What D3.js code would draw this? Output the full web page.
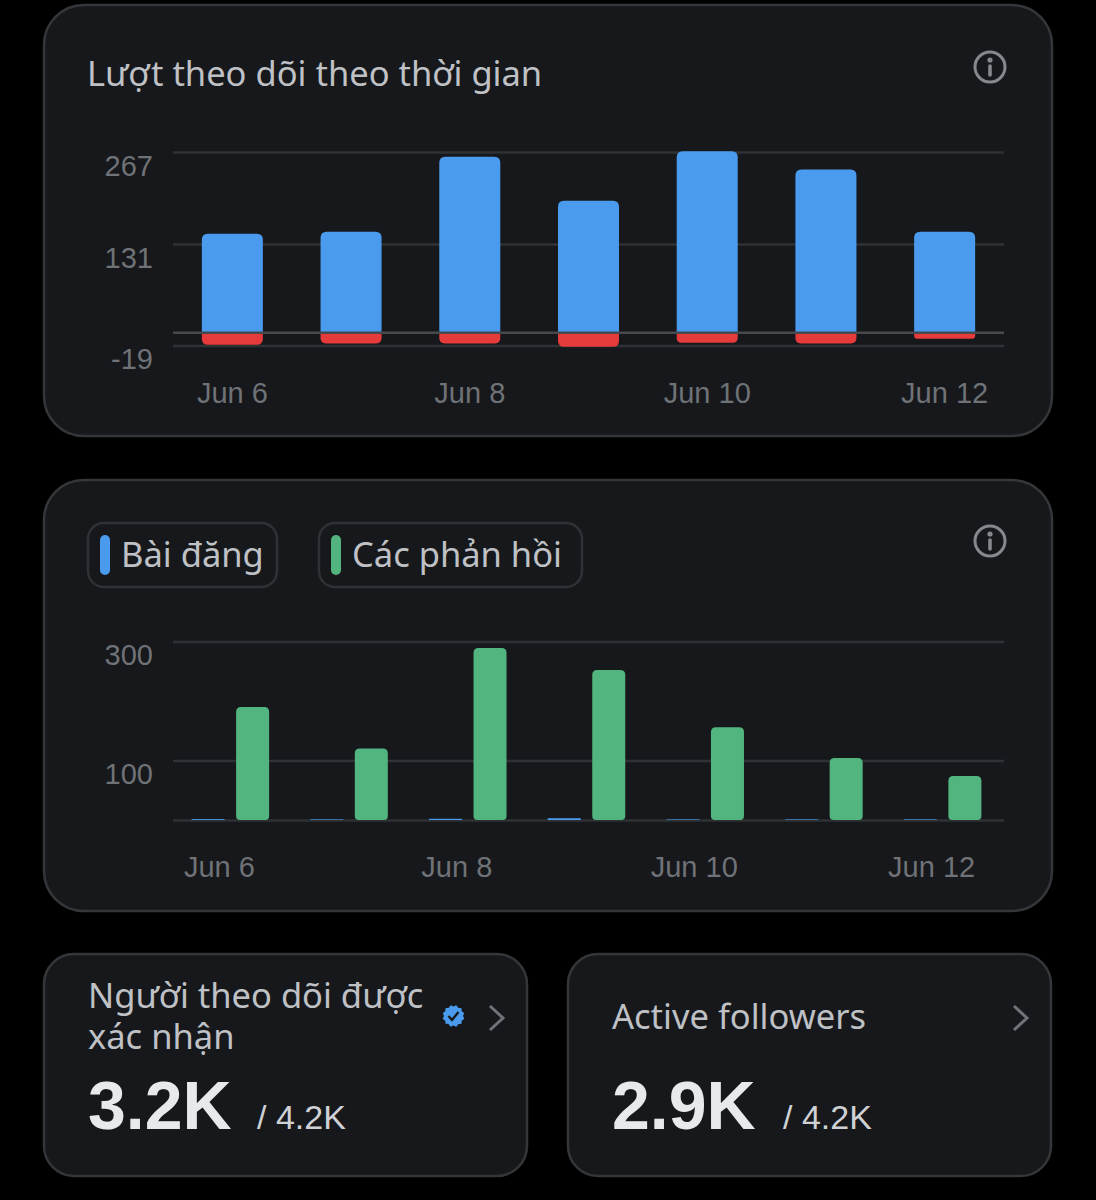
<!DOCTYPE html>
<html>
<head>
<meta charset="utf-8">
<script src="https://cdn.jsdelivr.net/npm/d3@7"></script>
<style>
  html, body { margin: 0; padding: 0; background: #000; }
  svg { display: block; }
  .label { font-family: "Noto Sans", sans-serif; fill: #bfc1c5; }
  .tick-text { font-family: "Liberation Sans", sans-serif; fill: #6f7276; font-size: 29px; }
</style>
</head>
<body>
<svg id="canvas"></svg>
<script>
let days = ["Jun 6", "Jun 7", "Jun 8", "Jun 9", "Jun 10", "Jun 11", "Jun 12"];
let tickDays = ["Jun 6", "Jun 8", "Jun 10", "Jun 12"];

let gained = [146, 149, 260, 195, 268, 241, 149];
let lost = [-18, -16, -16, -21, -15, -16, -9];
let followTicks = [267, 131, -19];

let posts = [1.5, 1, 2, 3, 1, 1, 1];
let replies = [190, 120, 289, 252, 156, 104, 74];
let replyTicks = [300, 100, 0];
let seriesNames = ["Bài đăng", "Các phản hồi"];

let width = 1096;
let height = 1200;

let cardFill = "#16181c";
let cardStroke = "#34373a";
let gridColor = "#2f3235";
let blue = "#4a9bee";
let red = "#e53b3b";
let green = "#52b57f";

let canvas = d3.select("#canvas").attr("width", width).attr("height", height);

let drawCard = (x, y, w, h, r) => {
  canvas.append("rect")
    .attr("x", x).attr("y", y).attr("width", w).attr("height", h).attr("rx", r)
    .attr("fill", cardFill).attr("stroke", cardStroke).attr("stroke-width", 2.5);
};

// rounded corners on top, bottom or both
let barPath = (x, y, w, h, rTop, rBottom) => {
  let rt = Math.min(rTop, h / 2), rb = Math.min(rBottom, h / 2);
  return "M" + x + "," + (y + rt) +
    "Q" + x + "," + y + " " + (x + rt) + "," + y +
    "H" + (x + w - rt) +
    "Q" + (x + w) + "," + y + " " + (x + w) + "," + (y + rt) +
    "V" + (y + h - rb) +
    "Q" + (x + w) + "," + (y + h) + " " + (x + w - rb) + "," + (y + h) +
    "H" + (x + rb) +
    "Q" + x + "," + (y + h) + " " + x + "," + (y + h - rb) + "Z";
};

let drawInfo = (cx, cy) => {
  let g = canvas.append("g").attr("transform", "translate(" + cx + "," + cy + ")");
  g.append("circle").attr("r", 15).attr("fill", "none").attr("stroke", "#85888c").attr("stroke-width", 3);
  g.append("circle").attr("cy", -7).attr("r", 2.6).attr("fill", "#85888c");
  g.append("line").attr("y1", -1).attr("y2", 8).attr("stroke", "#85888c").attr("stroke-width", 3.6).attr("stroke-linecap", "round");
};

let drawChevron = (x, y) => {
  canvas.append("path")
    .attr("d", "M" + x + "," + (y - 12) + "L" + (x + 13) + "," + y + "L" + x + "," + (y + 12))
    .attr("fill", "none").attr("stroke", "#6f7276").attr("stroke-width", 3);
};

let drawYAxis = (scale, values, shown) => {
  let axis = d3.axisLeft(scale).tickValues(values).tickSize(-831).tickPadding(0)
    .tickFormat((d) => (shown.includes(d) ? String(d).replace("-", "-") : ""));
  let g = canvas.append("g").attr("transform", "translate(173,0)").call(axis);
  g.select(".domain").remove();
  g.selectAll(".tick line").attr("stroke", gridColor).attr("stroke-width", 2.5);
  g.selectAll(".tick text")
    .attr("class", "tick-text")
    .attr("x", -20).attr("dy", 23)
    .attr("text-anchor", "end");
};

let drawXAxis = (scale, y) => {
  let axis = d3.axisBottom(scale).tickValues(tickDays).tickSize(0);
  let g = canvas.append("g").attr("transform", "translate(0," + y + ")").call(axis);
  g.select(".domain").remove();
  g.selectAll(".tick text").attr("class", "tick-text").attr("y", 0).attr("dy", "0.8em");
  return g;
};

let drawFollowChart = () => {
  drawCard(44, 5, 1008, 431, 40);
  canvas.append("text").attr("class", "label")
    .attr("x", 87).attr("y", 86).attr("font-size", 34.5)
    .text("Lượt theo dõi theo thời gian");
  drawInfo(990, 67);

  let xScale = d3.scaleBand().domain(days).range([173, 1004]).paddingInner(0.486).paddingOuter(0.243);
  let yScale = d3.scaleLinear().domain([-19, 267]).range([345.5, 152]);

  drawYAxis(yScale, followTicks, followTicks);

  canvas.selectAll(".gain").data(gained).enter().append("path")
    .attr("class", "gain")
    .attr("fill", blue)
    .attr("d", (item, i) => barPath(xScale(days[i]), yScale(item), xScale.bandwidth(), yScale(0) - yScale(item), 6, 0));

  canvas.selectAll(".loss").data(lost).enter().append("path")
    .attr("class", "loss")
    .attr("fill", red)
    .attr("d", (item, i) => barPath(xScale(days[i]), yScale(0), xScale.bandwidth(), yScale(item) - yScale(0), 0, 6));

  // the zero line sits on top of the bars
  canvas.append("line")
    .attr("x1", 173).attr("x2", 1004)
    .attr("y1", yScale(0)).attr("y2", yScale(0))
    .attr("stroke", "#47494d").attr("stroke-width", 2.5);

  drawXAxis(xScale, 380);
};

let drawLegend = () => {
  let boxes = [[88, 189, 100, 121], [319, 263, 331, 352]];
  let colors = [blue, green];
  seriesNames.forEach((name, i) => {
    let b = boxes[i];
    canvas.append("rect")
      .attr("x", b[0]).attr("y", 523).attr("width", b[1]).attr("height", 64).attr("rx", 16)
      .attr("fill", "none").attr("stroke", "#2f3235").attr("stroke-width", 2.5);
    canvas.append("rect")
      .attr("x", b[2]).attr("y", 535).attr("width", 10).attr("height", 40).attr("rx", 5)
      .attr("fill", colors[i]);
    canvas.append("text").attr("class", "label")
      .attr("x", b[3]).attr("y", 567).attr("font-size", 34.5)
      .text(name);
  });
};

let drawReplyChart = () => {
  drawCard(44, 480, 1008, 431, 40);
  drawLegend();
  drawInfo(990, 541);

  let xScale = d3.scaleBand().domain(days).range([171, 1002]).paddingInner(0.347).paddingOuter(0.1735);
  let inner = d3.scaleBand().domain(seriesNames).range([0, xScale.bandwidth()]).paddingInner(0.258);
  let yScale = d3.scaleLinear().domain([0, 300]).range([820, 641.5]);

  drawYAxis(yScale, replyTicks, [300, 100]);

  canvas.selectAll(".post").data(posts).enter().append("rect")
    .attr("class", "post")
    .attr("fill", blue)
    .attr("x", (item, i) => xScale(days[i]) + inner(seriesNames[0]))
    .attr("y", (item) => yScale(item))
    .attr("width", inner.bandwidth())
    .attr("height", (item) => yScale(0) - yScale(item));

  canvas.selectAll(".reply").data(replies).enter().append("path")
    .attr("class", "reply")
    .attr("fill", green)
    .attr("d", (item, i) => barPath(xScale(days[i]) + inner(seriesNames[1]), yScale(item), inner.bandwidth(), yScale(0) - yScale(item), 5, 4));

  // labels are offset to the left of the groups in the original
  let axisScale = xScale.copy().range([160, 991]);
  drawXAxis(axisScale, 854);
};

let drawBadge = (cx, cy) => {
  let points = d3.range(0, 24).map((i) => [i * Math.PI / 12, i % 2 ? 11 : 9.6]);
  canvas.append("path")
    .attr("transform", "translate(" + cx + "," + cy + ")")
    .attr("d", d3.lineRadial().curve(d3.curveCardinalClosed)(points))
    .attr("fill", blue);
  canvas.append("path")
    .attr("d", "M" + (cx - 5) + "," + cy + "L" + (cx - 1.5) + "," + (cy + 4) + "L" + (cx + 5) + "," + (cy - 4))
    .attr("fill", "none").attr("stroke", cardFill).attr("stroke-width", 2.4);
};

let drawStat = (x, lines, baselines, big, total, totalX) => {
  drawCard(x - 44, 954, 483, 222, 30);
  lines.forEach((line, i) => {
    canvas.append("text").attr("class", "label")
      .attr("x", x).attr("y", baselines[i]).attr("font-size", 34.5)
      .text(line);
  });
  canvas.append("text")
    .attr("x", x).attr("y", 1129)
    .attr("font-family", "Liberation Sans").attr("font-weight", 700).attr("font-size", 68)
    .attr("fill", "#e7e9ea")
    .text(big);
  canvas.append("text")
    .attr("x", totalX).attr("y", 1129)
    .attr("font-family", "Liberation Sans").attr("font-size", 34)
    .attr("fill", "#cfd1d4")
    .text(total);
  drawChevron(x + 402, 1018);
};

drawFollowChart();
drawReplyChart();
drawStat(88, ["Người theo dõi được", "xác nhận"], [1008, 1049], "3.2K", "/ 4.2K", 257);
drawBadge(453.5, 1016);
drawStat(612, ["Active followers"], [1029], "2.9K", "/ 4.2K", 783);
</script>
</body>
</html>
